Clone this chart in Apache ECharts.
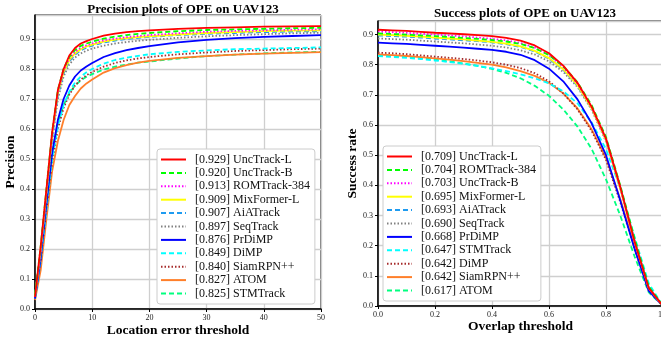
<!DOCTYPE html>
<html>
<head>
<meta charset="utf-8">
<script src="https://cdn.jsdelivr.net/npm/echarts@6/dist/echarts.min.js"></script>
<style>
  html, body { margin: 0; padding: 0; background: #fff; }
  #chart { width: 661px; height: 337px; }
</style>
</head>
<body>
<div id="chart"></div>
<script>
// ---- precision plot data (location error threshold -> precision) ----
var precThresholds = [0, 1, 2, 3, 4, 5, 6, 7, 8, 9, 10, 12, 14, 16, 18, 20, 25, 30, 35, 40, 45, 50];
var precNames = ['UncTrack-L', 'UncTrack-B', 'ROMTrack-384', 'MixFormer-L', 'AiATrack', 'SeqTrack', 'PrDiMP', 'DiMP', 'SiamRPN++', 'ATOM', 'STMTrack'];
var precScores = ['0.929', '0.920', '0.913', '0.909', '0.907', '0.897', '0.876', '0.849', '0.840', '0.827', '0.825'];
var precUncTrackL = [0.04, 0.21, 0.40, 0.59, 0.73, 0.80, 0.845, 0.87, 0.885, 0.893, 0.90, 0.911, 0.918, 0.923, 0.926, 0.929, 0.934, 0.937, 0.939, 0.941, 0.942, 0.943];
var precUncTrackB = [0.045, 0.21, 0.40, 0.59, 0.73, 0.80, 0.84, 0.863, 0.877, 0.885, 0.891, 0.901, 0.908, 0.913, 0.917, 0.920, 0.926, 0.930, 0.932, 0.934, 0.936, 0.937];
var precROMTrack = [0.04, 0.20, 0.39, 0.58, 0.72, 0.795, 0.835, 0.857, 0.87, 0.879, 0.885, 0.895, 0.901, 0.906, 0.91, 0.913, 0.919, 0.924, 0.927, 0.929, 0.931, 0.932];
var precMixFormer = [0.04, 0.20, 0.39, 0.58, 0.72, 0.79, 0.83, 0.852, 0.866, 0.875, 0.881, 0.891, 0.898, 0.903, 0.906, 0.909, 0.915, 0.92, 0.923, 0.926, 0.928, 0.929];
var precAiATrack = [0.04, 0.19, 0.38, 0.57, 0.71, 0.785, 0.825, 0.848, 0.862, 0.871, 0.878, 0.888, 0.895, 0.90, 0.904, 0.907, 0.913, 0.917, 0.92, 0.923, 0.925, 0.926];
var precSeqTrack = [0.04, 0.19, 0.38, 0.56, 0.70, 0.775, 0.815, 0.838, 0.852, 0.861, 0.868, 0.878, 0.885, 0.89, 0.894, 0.897, 0.904, 0.909, 0.913, 0.916, 0.919, 0.921];
var precPrDiMP = [0.035, 0.17, 0.35, 0.52, 0.63, 0.70, 0.745, 0.775, 0.795, 0.808, 0.82, 0.84, 0.853, 0.863, 0.87, 0.876, 0.889, 0.897, 0.903, 0.907, 0.91, 0.913];
var precDiMP = [0.035, 0.16, 0.33, 0.50, 0.61, 0.68, 0.725, 0.755, 0.775, 0.789, 0.80, 0.818, 0.83, 0.838, 0.844, 0.849, 0.857, 0.862, 0.866, 0.868, 0.87, 0.872];
var precSiamRPN = [0.035, 0.16, 0.33, 0.49, 0.60, 0.67, 0.715, 0.745, 0.765, 0.779, 0.79, 0.808, 0.82, 0.829, 0.835, 0.840, 0.849, 0.855, 0.86, 0.863, 0.866, 0.868];
var precATOM = [0.03, 0.13, 0.30, 0.46, 0.56, 0.63, 0.68, 0.71, 0.735, 0.752, 0.765, 0.788, 0.803, 0.813, 0.821, 0.827, 0.837, 0.843, 0.848, 0.851, 0.854, 0.856];
var precSTMTrack = [0.05, 0.19, 0.36, 0.52, 0.62, 0.68, 0.72, 0.745, 0.762, 0.774, 0.783, 0.798, 0.808, 0.815, 0.821, 0.825, 0.835, 0.843, 0.848, 0.852, 0.855, 0.857];
var precValues = [precUncTrackL, precUncTrackB, precROMTrack, precMixFormer, precAiATrack, precSeqTrack, precPrDiMP, precDiMP, precSiamRPN, precATOM, precSTMTrack];

// ---- success plot data (overlap threshold -> success rate) ----
var succThresholds = [0, 0.05, 0.1, 0.15, 0.2, 0.25, 0.3, 0.35, 0.4, 0.45, 0.5, 0.55, 0.6, 0.65, 0.7, 0.75, 0.8, 0.85, 0.9, 0.95, 1];
var succNames = ['UncTrack-L', 'ROMTrack-384', 'UncTrack-B', 'MixFormer-L', 'AiATrack', 'SeqTrack', 'PrDiMP', 'STMTrack', 'DiMP', 'SiamRPN++', 'ATOM'];
var succScores = ['0.709', '0.704', '0.703', '0.695', '0.693', '0.690', '0.668', '0.647', '0.642', '0.642', '0.617'];
var succUncTrackL = [0.916, 0.914, 0.912, 0.909, 0.906, 0.904, 0.901, 0.898, 0.895, 0.889, 0.880, 0.864, 0.838, 0.797, 0.74, 0.66, 0.555, 0.395, 0.215, 0.06, 0];
var succROMTrack = [0.904, 0.902, 0.900, 0.897, 0.895, 0.892, 0.889, 0.886, 0.882, 0.877, 0.869, 0.855, 0.832, 0.795, 0.742, 0.665, 0.56, 0.40, 0.225, 0.065, 0];
var succUncTrackB = [0.910, 0.908, 0.906, 0.903, 0.900, 0.897, 0.894, 0.890, 0.886, 0.881, 0.872, 0.857, 0.832, 0.792, 0.737, 0.658, 0.55, 0.39, 0.215, 0.06, 0];
var succMixFormer = [0.900, 0.898, 0.896, 0.893, 0.890, 0.887, 0.884, 0.880, 0.876, 0.870, 0.861, 0.846, 0.822, 0.785, 0.732, 0.655, 0.55, 0.39, 0.215, 0.06, 0];
var succAiATrack = [0.897, 0.895, 0.893, 0.890, 0.887, 0.884, 0.881, 0.878, 0.874, 0.868, 0.859, 0.844, 0.82, 0.783, 0.73, 0.655, 0.552, 0.395, 0.22, 0.062, 0];
var succSeqTrack = [0.887, 0.885, 0.883, 0.880, 0.877, 0.874, 0.871, 0.867, 0.863, 0.857, 0.848, 0.834, 0.811, 0.776, 0.726, 0.65, 0.545, 0.39, 0.215, 0.06, 0];
var succPrDiMP = [0.873, 0.871, 0.869, 0.866, 0.863, 0.860, 0.857, 0.853, 0.849, 0.843, 0.833, 0.815, 0.787, 0.745, 0.685, 0.605, 0.50, 0.35, 0.19, 0.05, 0];
var succSTMTrack = [0.829, 0.826, 0.823, 0.819, 0.814, 0.809, 0.803, 0.796, 0.788, 0.779, 0.768, 0.755, 0.738, 0.712, 0.672, 0.608, 0.52, 0.39, 0.23, 0.075, 0];
var succDiMP = [0.840, 0.838, 0.835, 0.831, 0.827, 0.823, 0.819, 0.814, 0.808, 0.800, 0.789, 0.772, 0.745, 0.705, 0.652, 0.58, 0.485, 0.345, 0.19, 0.05, 0];
var succSiamRPN = [0.834, 0.832, 0.829, 0.825, 0.821, 0.817, 0.812, 0.806, 0.800, 0.791, 0.779, 0.763, 0.74, 0.705, 0.655, 0.585, 0.49, 0.355, 0.20, 0.055, 0];
var succATOM = [0.832, 0.829, 0.826, 0.822, 0.817, 0.811, 0.804, 0.796, 0.786, 0.773, 0.755, 0.73, 0.697, 0.652, 0.595, 0.52, 0.42, 0.30, 0.165, 0.045, 0];
var succValues = [succUncTrackL, succROMTrack, succUncTrackB, succMixFormer, succAiATrack, succSeqTrack, succPrDiMP, succSTMTrack, succDiMP, succSiamRPN, succATOM];

// line style per legend slot (same sequence in both plots)
var slotColors = ['#ff0000', '#00ff00', '#ff00ff', '#ffff00', '#1e9bf0', '#808080', '#0000ff', '#00ffff', '#a52a2a', '#ff7f2a', '#00ff7f'];
var slotDash = ['solid', [5, 3], [1.5, 2], 'solid', [5, 3], [1.5, 2], 'solid', [5, 3], [1.5, 2], 'solid', [5, 3]];

var serif = '"Liberation Serif", "DejaVu Serif", serif';

window.addEventListener('DOMContentLoaded', function () {
    var chart = echarts.init(document.getElementById('chart'), null, {renderer: 'canvas'});

    function buildSeries(names, scores, values, xs, axisIdx) {
        return names.map(function (n, i) {
            return {
                name: '[' + scores[i] + '] ' + n,
                type: 'line',
                xAxisIndex: axisIdx,
                yAxisIndex: axisIdx,
                data: xs.map(function (x, k) { return [x, values[i][k]]; }),
                showSymbol: false,
                symbol: 'none',
                smooth: false,
                z: 20 - i,
                lineStyle: {color: slotColors[i], width: 1.8, type: slotDash[i]},
                itemStyle: {color: slotColors[i]}
            };
        });
    }

    function legendFor(names, scores, left, top) {
        return {
            left: left, top: top,
            orient: 'vertical',
            data: names.map(function (n, i) { return '[' + scores[i] + '] ' + n; }),
            itemWidth: 25, itemHeight: 10, itemGap: 0.4,
            padding: [4, 5, 4, 3],
            backgroundColor: '#fff',
            borderColor: '#cccccc', borderWidth: 1, borderRadius: 3,
            selectedMode: false,
            itemStyle: {opacity: 0},
            textStyle: {fontFamily: serif, fontSize: 12, color: '#111', lineHeight: 13, padding: [0, 0, 0, 4]}
        };
    }

    function valueAxis(idx, min, max, interval, name, nameGap, isY) {
        return {
            type: 'value', gridIndex: idx, min: min, max: max, interval: interval,
            name: name, nameLocation: 'middle', nameGap: nameGap, nameMoveOverlap: false,
            nameTextStyle: {fontFamily: serif, fontSize: 13.5, fontWeight: 'bold', color: '#000'},
            axisLine: {show: true, lineStyle: {color: '#000', width: 1.5}},
            axisTick: {show: true, length: 3, lineStyle: {color: '#000'}},
            axisLabel: {fontFamily: serif, fontSize: 8, color: '#222', margin: 5, showMaxLabel: !isY,
                formatter: function (v) { return isY || interval === 0.2 ? v.toFixed(1) : String(v); }},
            splitLine: {show: true, lineStyle: {color: '#cfcfcf', width: 1.3}}
        };
    }

    var option = {
        animation: false,
        backgroundColor: '#fff',
        title: [
            {text: 'Precision plots of OPE on UAV123', left: 178, top: -2, textAlign: 'center',
             textStyle: {fontFamily: serif, fontSize: 13, fontWeight: 'bold', color: '#000'}},
            {text: 'Success plots of OPE on UAV123', left: 520, top: 2, textAlign: 'center',
             textStyle: {fontFamily: serif, fontSize: 13, fontWeight: 'bold', color: '#000'}}
        ],
        grid: [
            {left: 35, top: 15, width: 286, height: 294, show: true, borderColor: '#000', borderWidth: 1,
             outerBoundsMode: 'none'},
            {left: 378, top: 21, width: 285, height: 285, show: true, borderColor: '#000', borderWidth: 1,
             outerBoundsMode: 'none'}
        ],
        xAxis: [
            valueAxis(0, 0, 50, 10, 'Location error threshold', 15, false),
            valueAxis(1, 0, 1, 0.2, 'Overlap threshold', 13.5, false)
        ],
        yAxis: [
            valueAxis(0, 0, 0.98, 0.1, 'Precision', 17, true),
            valueAxis(1, 0, 0.945, 0.1, 'Success rate', 18, true)
        ],
        legend: [
            legendFor(precNames, precScores, 157, 149),
            legendFor(succNames, succScores, 383, 146)
        ],
        series: buildSeries(precNames, precScores, precValues, precThresholds, 0)
            .concat(buildSeries(succNames, succScores, succValues, succThresholds, 1))
    };
    chart.setOption(option);
});
</script>
</body>
</html>
